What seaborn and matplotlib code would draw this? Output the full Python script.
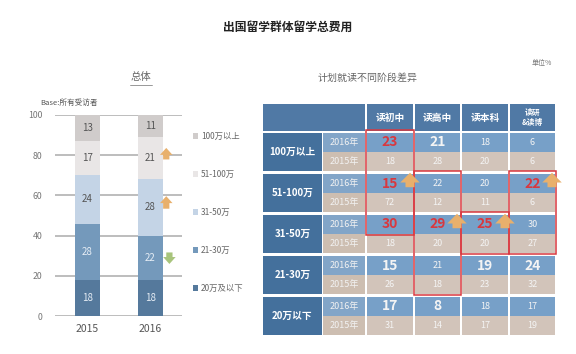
import pandas as pd
import matplotlib
matplotlib.use('Agg')
import matplotlib.pyplot as plt
import seaborn as sns
from matplotlib.patches import Rectangle
from matplotlib.lines import Line2D

# left: overall spend share by year (bottom band first)
YEARS = ['2015', '2016']
BANDS = ['20万及以下', '21-30万', '31-50万', '51-100万', '100万以上']
SHARE_2015 = [18, 28, 24, 17, 13]
SHARE_2016 = [18, 22, 28, 21, 11]
BAND_COLORS = ['#55799c', '#7499bb', '#c4d4e6', '#e9e6e6', '#d0cccb']
LABEL_COLORS = ['#e6edf5', '#e6edf5', '#555555', '#555555', '#555555']

# right: by planned study stage
STAGES = ['读初中', '读高中', '读本科', '读研\n&读博']
GROUPS = ['100万以上', '51-100万', '31-50万', '21-30万', '20万以下']
ROW_YEARS = ['2016年', '2015年']
PLAN_2016 = [[23, 21, 18, 6], [15, 22, 20, 22], [30, 29, 25, 30],
             [15, 21, 19, 24], [17, 8, 18, 17]]
PLAN_2015 = [[18, 28, 20, 6], [72, 12, 11, 6], [18, 20, 20, 27],
             [26, 18, 23, 32], [31, 14, 17, 19]]
BIG_2016 = [[1, 1, 0, 0], [1, 0, 0, 1], [1, 1, 1, 0], [1, 0, 1, 1], [1, 1, 0, 0]]
RED_2016 = [[1, 0, 0, 0], [1, 0, 0, 1], [1, 1, 1, 0], [0, 0, 0, 0], [0, 0, 0, 0]]
# highlighted boxes: (stage column, first row, last row), rows count 2016/2015 pairs
HIGHLIGHTS = [(0, 0, 4), (1, 2, 7), (2, 4, 5), (3, 2, 5)]
UP_ARROWS = [(0, 2), (3, 2), (1, 4), (2, 4)]

ORANGE = '#e8b06c'
GREEN = '#a8c47c'
RED = '#d8383f'


def draw_overall(fig):
    ax = fig.add_axes([55 / 576, 38 / 354, 127 / 576, 201 / 354])
    rows = []
    for year, shares in zip(YEARS, [SHARE_2015, SHARE_2016]):
        top = 0
        for band, s in zip(BANDS, shares):
            top += s
            rows.append({'year': year, 'band': band, 'share': s, 'top': top})
    df = pd.DataFrame(rows)

    # stack by drawing cumulative tops from the highest band down
    for band, color in reversed(list(zip(BANDS, BAND_COLORS))):
        sub = df[df['band'] == band]
        sns.barplot(data=sub, x='year', y='top', color=color, saturation=1,
                    width=0.4, ax=ax, label=band, zorder=2, linewidth=0)
    for band, lc in zip(BANDS, LABEL_COLORS):
        sub = df[df['band'] == band]
        for i, (_, r) in enumerate(sub.iterrows()):
            ax.text(i, r['top'] - r['share'] / 2, str(r['share']), ha='center',
                    va='center', fontsize=7, color=lc, zorder=3)

    ax.set_xlim(-0.516, 1.5)
    ax.set_ylim(0, 100)
    ax.set_yticks(range(0, 101, 20))
    ax.yaxis.grid(True, color='#b8b8b8', lw=1.3)
    ax.set_axisbelow(True)
    for sp in ax.spines.values():
        sp.set_visible(False)
    ax.tick_params(axis='y', length=0, pad=9, labelsize=6.3, labelcolor='#777777')
    ax.tick_params(axis='x', length=0, pad=6, labelsize=7.5, labelcolor='#555555')
    ax.set_xlabel('')
    ax.set_ylabel('')

    arrow = dict(arrowstyle='simple,head_width=0.9,head_length=0.5,tail_width=0.45',
                 lw=0, mutation_scale=10)
    ax.annotate('', xy=(1.25, 85), xytext=(1.25, 76.5),
                arrowprops=dict(color=ORANGE, **arrow), zorder=4)
    ax.annotate('', xy=(1.25, 61), xytext=(1.25, 52),
                arrowprops=dict(color=ORANGE, **arrow), zorder=4)
    ax.annotate('', xy=(1.3, 24.5), xytext=(1.3, 33),
                arrowprops=dict(color=GREEN, **arrow), zorder=4)

    handles, labels = ax.get_legend_handles_labels()
    ax.legend(handles, labels, loc='upper left', bbox_to_anchor=(185 / 576, 1 - 124 / 354),
              bbox_transform=fig.transFigure, frameon=False, fontsize=6,
              handlelength=0.7, handleheight=0.7, handletextpad=0.3,
              labelspacing=3.5, labelcolor='#666666')
    return ax


def draw_table(fig):
    ax = fig.add_axes([0, 0, 1, 1], facecolor='none')
    ax.set_xlim(0, 576)
    ax.set_ylim(354, 0)
    ax.axis('off')

    cols = [(367, 413), (415, 460), (462, 508), (510, 555)]

    def row_top(r):
        return 133 + 41 * (r // 2) + 19 * (r % 2)

    def cell(x0, x1, y0, y1, color):
        ax.add_patch(Rectangle((x0, y0), x1 - x0, y1 - y0, facecolor=color,
                               edgecolor='none', zorder=1))

    # header
    cell(263, 365, 104, 131, '#5079a5')
    for (x0, x1), stage in zip(cols, STAGES):
        cell(x0, x1, 104, 131, '#5079a5')
        ax.text((x0 + x1) / 2, 117.5, stage, ha='center', va='center',
                fontsize=5.6 if '\n' in stage else 7, color='white',
                fontweight='bold', linespacing=1.05, zorder=2)

    for g, group in enumerate(GROUPS):
        y0 = row_top(2 * g)
        cell(263, 322, y0, y0 + 38, '#44709c')
        ax.text(292.5, y0 + 19, group, ha='center', va='center', fontsize=7,
                color='white', fontweight='bold', zorder=2)
        for k, (yl, values) in enumerate(zip(ROW_YEARS, [PLAN_2016, PLAN_2015])):
            r = 2 * g + k
            t = row_top(r)
            cell(323, 365, t, t + 19, '#82a5c8' if k == 0 else '#cdbeb1')
            ax.text(344, t + 9.5, yl, ha='center', va='center', fontsize=6.5,
                    color='#f2f2f2', zorder=2)
            for c, (x0, x1) in enumerate(cols):
                cell(x0, x1, t, t + 19, '#77a0c8' if k == 0 else '#d2c4ba')
                big = k == 0 and BIG_2016[g][c]
                red = k == 0 and RED_2016[g][c]
                ax.text((x0 + x1) / 2, t + 9.5, str(values[g][c]), ha='center',
                        va='center', fontsize=10 if big else 6.5,
                        fontweight='bold' if big else 'normal',
                        color=RED if red else '#f4f4f4', zorder=2)

    for c, r0, r1 in HIGHLIGHTS:
        x0, x1 = cols[c]
        y0 = row_top(r0) - 3
        y1 = row_top(r1) + 19 + 1
        ax.add_patch(Rectangle((x0 - 1, y0), x1 - x0 + 2, y1 - y0, fill=False,
                               edgecolor=RED, lw=1.1, zorder=3))

    arrow = dict(arrowstyle='simple,head_width=1.4,head_length=0.7,tail_width=0.65',
                 color=ORANGE, lw=0, mutation_scale=10)
    for c, r in UP_ARROWS:
        x = cols[c][1] - 3
        t = row_top(r)
        ax.annotate('', xy=(x, t - 4), xytext=(x, t + 16), arrowprops=arrow, zorder=4)
    return ax


def main():
    sns.set_style('white')
    plt.rcParams['font.family'] = ['Noto Sans CJK SC', 'DejaVu Sans']
    fig = plt.figure(figsize=(5.76, 3.54), dpi=100)

    draw_table(fig)
    draw_overall(fig)

    fig.text(0.5, 1 - 27 / 354, '出国留学群体留学总费用', ha='center', va='center',
             fontsize=8.5, fontweight='bold', color='#222222')
    fig.text(141 / 576, 1 - 77 / 354, '总体', ha='center', va='center',
             fontsize=7.5, color='#666666')
    fig.add_artist(Line2D([130 / 576, 152 / 576], [1 - 85 / 354, 1 - 85 / 354],
                          color='#888888', lw=0.6))
    fig.text(368 / 576, 1 - 78 / 354, '计划就读不同阶段差异', ha='center', va='center',
             fontsize=7.2, color='#666666')
    fig.text(542 / 576, 1 - 63 / 354, '单位%', ha='center', va='center',
             fontsize=5, color='#777777', style='italic')
    fig.text(40 / 576, 1 - 103 / 354, 'Base:所有受访者', ha='left', va='center',
             fontsize=5.5, color='#555555', style='italic')

    fig.savefig('out.png', dpi=100)


if __name__ == '__main__':
    main()
